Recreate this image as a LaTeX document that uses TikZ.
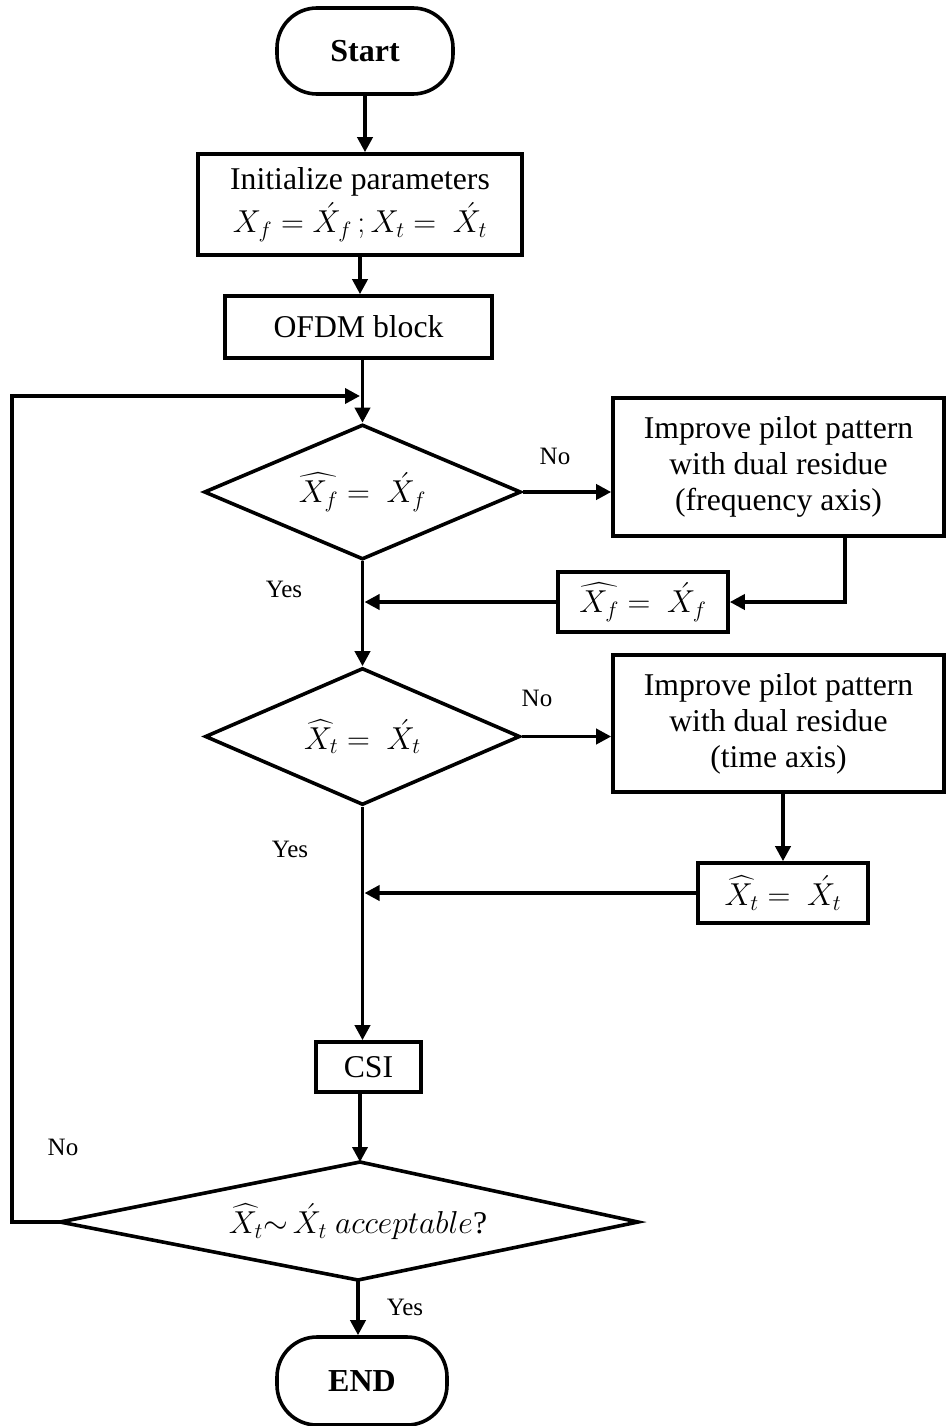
\RequirePackage{fix-cm}
\documentclass[tikz,border=0pt]{standalone}
\usepackage{amsmath}
\usepackage{fontspec}
\setmainfont{Liberation Serif}
\usetikzlibrary{arrows.meta,shapes.geometric}
\begin{document}
\begin{tikzpicture}[x=1pt,y=-1pt,
  line width=3.6pt,
  arr/.style={-{Triangle[length=15pt,width=15pt]}, line width=3.6pt},
  box/.style={draw, rectangle, inner sep=0pt, align=center, font=\fontsize{31.7}{36}\selectfont},
  term/.style={draw, rectangle, rounded corners=40pt, inner sep=0pt, font=\bfseries\fontsize{32}{36}\selectfont},
  dec/.style={draw, diamond, inner sep=0pt, font=\fontsize{31.7}{36}\selectfont},
  lbl/.style={inner sep=0pt, font=\fontsize{25}{28}\selectfont}
]
\useasboundingbox (0,0) rectangle (946,1426);

\node[term, minimum width=176pt, minimum height=86pt] (start) at (365,51) {Start};
\node[box, minimum width=324pt, minimum height=101pt] (init) at (360,204.5)
  {Initialize parameters\\[6pt] $X_f = \acute{X}_f\,; X_t = \ \acute{X}_t$};
\node[box, minimum width=267pt, minimum height=62pt] (ofdm) at (358.5,327) {OFDM block};
\node[dec, minimum width=317pt, minimum height=135pt, shape aspect=2.35] (d1) at (362.5,492)
  {$\widehat{X_f} = \ \acute{X}_f$};
\node[box, minimum width=331pt, minimum height=138pt] (box1) at (778.5,467)
  {Improve pilot pattern\\ with dual residue\\ (frequency axis)};
\node[box, minimum width=170pt, minimum height=60pt] (box2) at (643,602)
  {$\widehat{X_f} = \ \acute{X}_f$};
\node[dec, minimum width=315pt, minimum height=137pt, shape aspect=2.3] (d2) at (362.5,736.5)
  {$\widehat{X_t} = \ \acute{X}_t$};
\node[box, minimum width=331pt, minimum height=137pt] (box3) at (778.5,723.5)
  {Improve pilot pattern\\ with dual residue\\ (time axis)};
\node[box, minimum width=170pt, minimum height=60pt] (box4) at (783,893)
  {$\widehat{X_t} = \ \acute{X}_t$};
\node[box, minimum width=105pt, minimum height=50pt] (csi) at (368.5,1067) {CSI};

% last decision as a drawn diamond with named corners
\coordinate (d3n) at (360,1162);
\coordinate (d3e) at (638,1222);
\coordinate (d3s) at (358,1280);
\coordinate (d3w) at (60,1222);
\draw (d3n) -- (d3e) -- (d3s) -- (d3w) -- cycle;
\node[inner sep=0pt, font=\fontsize{31.7}{36}\selectfont] (d3) at (358,1222)
  {$\widehat{X_t}{\sim}\,\acute{X}_t\ acceptable$?};

\node[term, minimum width=170pt, minimum height=88pt] (end) at (362,1381) {END};

% labels
\node[lbl] (no1) at (555,456) {No};
\node[lbl] (yes1) at (284,589) {Yes};
\node[lbl] (no2) at (537,698) {No};
\node[lbl] (yes2) at (290,849) {Yes};
\node[lbl] (no3) at (63,1147) {No};
\node[lbl] (yes3) at (405,1307) {Yes};

% helper coordinates
\coordinate (lc) at (12,396);
\coordinate (lj) at (360,396);
\coordinate (c1) at (845,0);
\coordinate (j) at (364.5,0);

% connectors
\draw[arr] (start) -- (start |- init.north);
\draw[arr] (init) -- (init |- ofdm.north);
\draw[arr] (ofdm.south -| d1.north) -- (d1.north);
\draw[arr] (d3w) -- (d3w -| lc) -- (lc) -- (lj);
\draw[arr] (d1.east) -- (d1.east -| box1.west);
\draw[arr] (box1.south -| c1) |- (box2.east);
\draw[arr] (box2.west) -- (box2.west -| j);
\draw[arr] (d1.south) -- (d2.north);
\draw[arr] (d2.east) -- (d2.east -| box3.west);
\draw[arr] (box3.south -| box4.north) -- (box4.north);
\draw[arr] (box4.west) -- (box4.west -| j);
\draw[arr] (d2.south) -- (d2.south |- csi.north);
\draw[arr] (csi.south -| d3n) -- (d3n);
\draw[arr] (d3s) -- (d3s |- end.north);
\end{tikzpicture}
\end{document}
